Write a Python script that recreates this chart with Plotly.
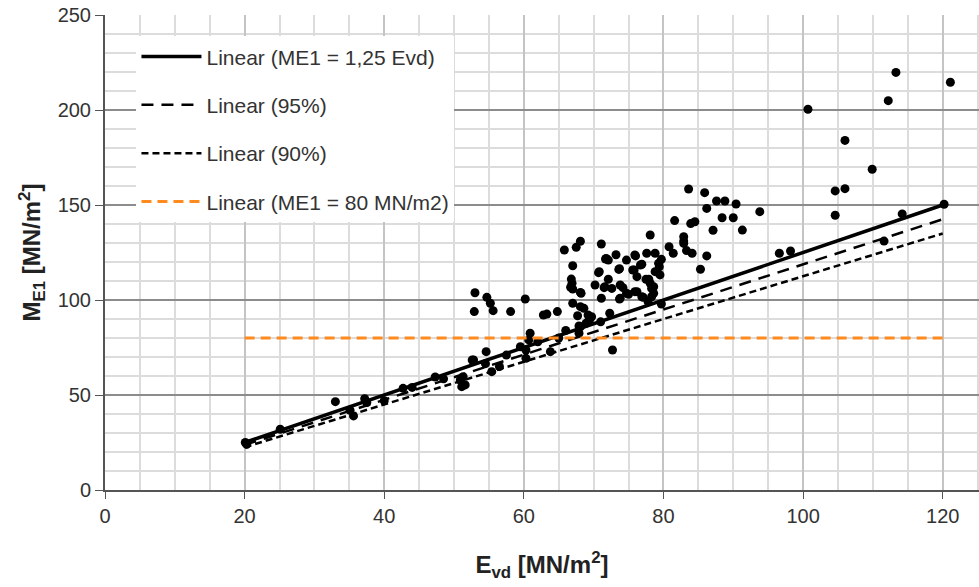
import plotly.graph_objects as go

# ---- data ----
evd = [
    100.7, 113.3, 121.1, 112.2, 106.0, 109.9, 104.6, 106.0, 104.6, 114.2, 120.2, 111.6, 96.6, 98.2, 93.8, 91.3,
    83.6, 85.9, 87.6, 88.8, 90.4, 86.2, 88.4, 90.0, 81.6, 83.9, 84.5, 87.1, 78.1, 82.9, 82.9, 82.9, 80.8, 81.4,
    83.3, 84.1, 86.2, 85.3,
    77.6, 78.8, 79.7, 76.9, 79.4, 78.8, 79.5, 77.5, 78.6, 68.1, 67.5, 65.8, 71.1, 71.8, 72.1, 73.2, 74.7, 76.0,
    67.0, 73.7, 70.8, 75.8, 76.2, 66.9, 72.1, 70.2, 71.6, 73.8, 66.7, 66.8, 67.0, 68.1, 67.0, 68.1, 68.6, 67.7,
    69.2, 69.7, 67.9, 68.9, 69.4, 72.3, 70.7, 71.7, 71.1, 71.5, 72.6, 73.6, 74.2, 73.8, 75.0, 75.9, 75.6, 76.7,
    75.9, 77.1, 77.9, 78.3, 79.7, 74.7, 76.2, 78.3, 73.7, 68.2, 68.1, 67.9, 78.1, 79.3, 78.6, 76.9, 77.8, 71.0,
    53.0, 54.7, 55.2, 55.6, 52.9, 58.1, 60.2, 62.8, 63.3, 64.8, 60.9, 60.7, 63.8, 54.6, 52.6, 55.4, 51.3, 51.1,
    60.3, 60.3, 72.7, 59.5,
    20.1, 20.3, 25.1, 33.0, 35.6, 35.1, 37.2, 37.5, 40.0, 42.7, 44.0, 47.3, 48.5, 50.9, 51.6, 52.8, 54.5, 56.5,
    57.5, 62.0, 65.0, 66.0,
]
me1 = [
    200.4, 219.8, 214.6, 204.9, 184.0, 168.8, 157.4, 158.6, 144.6, 145.3, 150.4, 131.0, 124.6, 125.8, 146.5, 136.8,
    158.4, 156.5, 152.1, 152.1, 150.5, 148.2, 143.3, 143.3, 141.8, 140.2, 141.2, 136.7, 134.2, 133.3, 131.0, 129.8,
    128.0, 124.6, 126.0, 124.6, 123.2, 116.2,
    124.6, 124.6, 121.4, 118.8, 117.5, 114.9, 113.2, 110.9, 107.0, 130.9, 127.7, 126.3, 129.5, 121.9, 121.0, 123.8,
    121.0, 123.2, 118.0, 116.5, 114.9, 115.8, 112.3, 108.8, 110.9, 107.9, 107.0, 107.9, 106.7, 111.0, 105.8, 104.0,
    98.3, 96.5, 95.6, 91.7, 92.1, 91.2, 86.3, 87.7, 89.5, 93.0, 114.4, 121.6, 100.9, 106.5, 106.1, 116.1, 106.5,
    100.9, 103.0, 123.7, 115.8, 118.4, 104.4, 101.4, 110.9, 106.1, 97.9, 103.5, 104.4, 101.7, 100.5, 103.5, 85.9,
    82.5, 108.8, 119.3, 103.5, 101.7, 99.1, 88.5,
    103.8, 101.4, 98.3, 94.4, 93.9, 93.9, 100.5, 92.1, 92.6, 93.9, 82.5, 79.0, 72.8, 72.8, 68.4, 62.3, 59.6, 54.4,
    73.7, 69.3, 73.7, 75.4,
    25.0, 24.0, 32.0, 46.5, 39.0, 42.0, 48.0, 46.0, 47.0, 53.5, 54.0, 59.5, 58.5, 57.9, 55.3, 68.4, 66.5, 65.0,
    71.0, 78.0, 80.0, 84.0,
]

line_x = [20, 120]
line_125 = [25.0, 150.0]
line_95 = [23.75, 142.5]
line_90 = [22.5, 135.0]
line_80 = [80, 80]

x_ticks = [0, 20, 40, 60, 80, 100, 120]
y_ticks = [0, 50, 100, 150, 200, 250]

FONT = "Liberation Sans, Arial, sans-serif"

fig = go.Figure()
fig.add_trace(go.Scatter(x=evd, y=me1, mode="markers", showlegend=False,
                         marker=dict(color="black", size=9)))
fig.add_trace(go.Scatter(x=line_x, y=line_125, mode="lines", name="Linear (ME1 = 1,25 Evd)",
                         legendgroup="a", line=dict(color="black", width=3.5)))
fig.add_trace(go.Scatter(x=line_x, y=line_95, mode="lines", name="Linear (95%)",
                         legendgroup="b", line=dict(color="black", width=2.5, dash="12px,8px")))
fig.add_trace(go.Scatter(x=line_x, y=line_90, mode="lines", name="Linear (90%)",
                         legendgroup="c", line=dict(color="black", width=2.5, dash="7px,4px")))
fig.add_trace(go.Scatter(x=line_x, y=line_80, mode="lines", name="Linear (ME1 = 80 MN/m2)",
                         legendgroup="d", line=dict(color="#FF8A1E", width=3, dash="10px,6px")))

fig.update_layout(
    width=979, height=587,
    margin=dict(l=105, r=0, t=15, b=97),
    paper_bgcolor="white", plot_bgcolor="white",
    font=dict(family=FONT, size=20, color="#333333"),
    legend=dict(x=0.036, y=0.955, xanchor="left", yanchor="top",
                bgcolor="white", font=dict(size=21, color="#333333"),
                tracegroupgap=18, traceorder="grouped", itemwidth=60),
)
fig.update_xaxes(
    range=[0, 125.2], tickvals=x_ticks, ticks="outside", ticklen=7, tickcolor="#555555",
    showline=True, linecolor="#555555", linewidth=2,
    showgrid=True, gridcolor="#c4c4c4", gridwidth=1.5,
    minor=dict(dtick=5, showgrid=True, gridcolor="#dcdcdc", gridwidth=1.5),
    zeroline=False, tickfont=dict(size=20, color="#333333"),
    title=dict(text="<b>E<sub>vd</sub> [MN/m<sup>2</sup>]</b>", font=dict(size=24, color="#222222"), standoff=30),
)
fig.update_yaxes(
    range=[0, 250], tickvals=y_ticks, ticks="outside", ticklen=8, tickcolor="#555555",
    showline=True, linecolor="#555555", linewidth=2,
    showgrid=True, gridcolor="#8c8c8c", gridwidth=1.5,
    minor=dict(dtick=10, showgrid=True, gridcolor="#dcdcdc", gridwidth=1.5),
    zeroline=False, tickfont=dict(size=20, color="#333333"),
    title=dict(text="<b>M<sub>E1</sub> [MN/m<sup>2</sup>]</b>", font=dict(size=24, color="#222222"), standoff=10),
)

fig.write_html("out.html")
